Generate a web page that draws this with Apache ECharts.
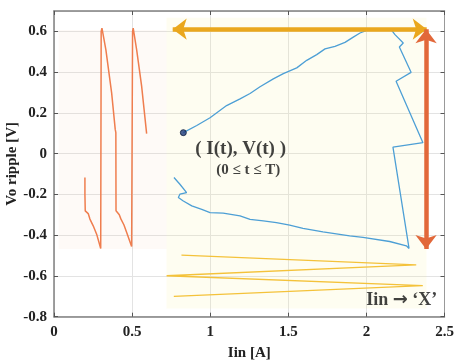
<!DOCTYPE html>
<html>
<head>
<meta charset="utf-8">
<script src="https://cdn.jsdelivr.net/npm/echarts@6/dist/echarts.min.js"></script>
<style>html,body{margin:0;padding:0;background:#fff}#c{width:456px;height:360px}</style>
</head>
<body>
<div id="c"></div>
<script>
// ---- data ----
const xAxisMin = 0, xAxisMax = 2.5, xAxisStep = 0.5;
const yAxisMin = -0.8, yAxisMax = 0.7, yAxisStep = 0.2;
const xAxisName = 'Iin [A]';
const yAxisName = 'Vo ripple [V]';

// orange: ripple voltage waveform
const orangeI = [0.198,0.198,0.200,0.219,0.230,0.251,0.273,0.299,0.302,0.307,0.332,0.369,0.392,0.396,0.397,0.418,0.428,0.448,0.467,0.497,0.503,0.507,0.529,0.561,0.593];
const orangeV = [-0.117,-0.200,-0.281,-0.294,-0.321,-0.354,-0.395,-0.465,0.600,0.616,0.510,0.298,0.119,0.103,-0.280,-0.300,-0.320,-0.350,-0.390,-0.455,0.600,0.616,0.510,0.331,0.098];

// blue: (I(t), V(t)) trajectory
const blueI = [0.828,0.914,0.999,1.105,1.191,1.255,1.319,1.404,1.468,1.554,1.618,1.682,1.735,1.799,1.863,1.916,1.959,2.002,2.162,2.183,2.236,2.211,2.286,2.190,2.362,2.170,2.273,2.256,2.149,1.978,1.893,1.722,1.594,1.509,1.424,1.340,1.255,1.191,1.083,0.999,0.946,0.882,0.828,0.796,0.806,0.849,0.806,0.768];
const blueV = [0.103,0.138,0.176,0.236,0.269,0.295,0.328,0.367,0.393,0.421,0.458,0.486,0.514,0.526,0.546,0.572,0.592,0.605,0.605,0.584,0.543,0.523,0.399,0.355,0.054,0.032,-0.465,-0.452,-0.431,-0.411,-0.403,-0.384,-0.367,-0.351,-0.338,-0.330,-0.322,-0.305,-0.292,-0.289,-0.273,-0.256,-0.232,-0.215,-0.199,-0.191,-0.150,-0.117];

// yellow: input current zigzag
const yellowI = [0.816,2.319,0.721,2.361,0.767];
const yellowV = [-0.498,-0.546,-0.599,-0.648,-0.700];

// start point marker
const startI = [0.828];
const startV = [0.103];

// shaded regions [x0, y0, x1, y1]
const pinkRegion = [0.03, -0.468, 0.72, 0.607];
const yellowRegion = [0.72, -0.76, 2.385, 0.667];

// arrows [x0, y0, x1, y1]
const hArrow = [0.76, 0.611, 2.386, 0.611];
const vArrow = [2.382, 0.611, 2.382, -0.468];

// annotation texts (rich-text markup: {a|...} = arrow glyph)
const annoText = ['( I(t), V(t) )', '(0 \u2264 t \u2264 T)', 'Iin {a|\u2192} \u2018X\u2019'];
const annoI = [1.195, 1.243, 2.226];
const annoV = [0.021, -0.080, -0.721];
const annoSize = [19, 15, 18];

// ---- build ----
const zip = (a, b) => a.map((v, i) => [v, b[i]]);
const serif = '"Liberation Serif", "Times New Roman", serif';

const chart = echarts.init(document.getElementById('c'), null, { renderer: 'canvas' });
chart.setOption({
  animation: false,
  backgroundColor: '#ffffff',
  grid: { left: 54, right: 11.5, top: 11, bottom: 43.3, containLabel: false, outerBoundsMode: 'none' },
  xAxis: [{
    type: 'value', min: xAxisMin, max: xAxisMax, interval: xAxisStep,
    name: xAxisName, nameLocation: 'middle', nameGap: 29, nameMoveOverlap: false,
    nameTextStyle: { fontFamily: serif, fontWeight: 'bold', fontSize: 15, color: '#222' },
    axisLine: { show: true, onZero: false, lineStyle: { color: '#808080', width: 1.5 } },
    axisTick: { show: true, inside: true, length: 4, lineStyle: { color: '#555' } },
    axisLabel: { fontFamily: serif, fontWeight: 'bold', fontSize: 15, color: '#222', margin: 8 },
    splitLine: { show: true, lineStyle: { color: '#e3e3e3', width: 1 } }
  }, {
    type: 'value', min: xAxisMin, max: xAxisMax, interval: xAxisStep, position: 'top',
    axisLine: { show: true, onZero: false, lineStyle: { color: '#808080', width: 1.5 } },
    axisTick: { show: true, inside: true, length: 4, lineStyle: { color: '#555' } },
    axisLabel: { show: false }, splitLine: { show: false }
  }],
  yAxis: [{
    type: 'value', min: yAxisMin, max: yAxisMax, interval: yAxisStep,
    name: yAxisName, nameLocation: 'middle', nameGap: 34, nameMoveOverlap: false,
    nameTextStyle: { fontFamily: serif, fontWeight: 'bold', fontSize: 15, color: '#222' },
    axisLine: { show: true, onZero: false, lineStyle: { color: '#808080', width: 1.5 } },
    axisTick: { show: true, inside: true, length: 4, lineStyle: { color: '#555' } },
    axisLabel: { fontFamily: serif, fontWeight: 'bold', fontSize: 15, color: '#222', margin: 7, showMaxLabel: false },
    splitLine: { show: true, lineStyle: { color: '#e3e3e3', width: 1 } }
  }, {
    type: 'value', min: yAxisMin, max: yAxisMax, interval: yAxisStep, position: 'right',
    axisLine: { show: true, onZero: false, lineStyle: { color: '#999', width: 1 } },
    axisTick: { show: true, inside: true, length: 4, lineStyle: { color: '#555' } },
    axisLabel: { show: false }, splitLine: { show: false }
  }],
  series: [
    {
      name: 'regions', type: 'line', data: [], silent: true,
      markArea: {
        silent: true,
        data: [
          [{ coord: [pinkRegion[0], pinkRegion[1]], itemStyle: { color: 'rgba(240,190,150,0.08)' } }, { coord: [pinkRegion[2], pinkRegion[3]] }],
          [{ coord: [yellowRegion[0], yellowRegion[1]], itemStyle: { color: 'rgba(250,240,150,0.13)' } }, { coord: [yellowRegion[2], yellowRegion[3]] }]
        ]
      }
    },
    {
      name: 'Vo', type: 'line', data: zip(orangeI, orangeV), showSymbol: false, silent: true,
      lineStyle: { color: '#ef7d4e', width: 1.5 }, z: 3
    },
    {
      name: 'Iin', type: 'line', data: zip(yellowI, yellowV), showSymbol: false, silent: true,
      lineStyle: { color: '#f4c23a', width: 1.3 }, z: 3
    },
    {
      name: 'IV', type: 'line', data: zip(blueI, blueV), showSymbol: false, silent: true,
      lineStyle: { color: '#4d9fd5', width: 1.3 }, z: 4
    },
    {
      name: 'start', type: 'scatter', data: zip(startI, startV), symbolSize: 6, silent: true,
      itemStyle: { color: '#1d3a7a', borderColor: '#0a1a3a', borderWidth: 1 }, z: 6
    },
    {
      name: 'arrows', type: 'line', data: [], silent: true, z: 5,
      markLine: {
        silent: true, animation: false,
        symbol: ['arrow', 'arrow'], symbolSize: [16, 14],
        label: { show: false },
        data: [
          [{ coord: [hArrow[0], hArrow[1]], lineStyle: { color: '#eaa71d', width: 4.5, type: 'solid' }, itemStyle: { color: '#eaa71d' } },
           { coord: [hArrow[2], hArrow[3]] }],
          [{ coord: [vArrow[0], vArrow[1]], lineStyle: { color: '#e2683a', width: 4.5, type: 'solid' }, itemStyle: { color: '#e2683a' } },
           { coord: [vArrow[2], vArrow[3]] }]
        ]
      }
    },
    {
      name: 'annotations', type: 'scatter', symbolSize: 0, silent: true, z: 7,
      data: annoText.map((t, i) => ({
        value: [annoI[i], annoV[i]], name: t,
        label: { fontSize: annoSize[i], rich: { a: { fontFamily: '"DejaVu Sans"', fontWeight: 'bold', fontSize: annoSize[i], color: '#111' } } }
      })),
      label: {
        show: true, position: 'inside', formatter: p => p.name,
        fontFamily: serif, fontWeight: 'bold', color: '#111'
      }
    }
  ]
});
</script>
</body>
</html>
